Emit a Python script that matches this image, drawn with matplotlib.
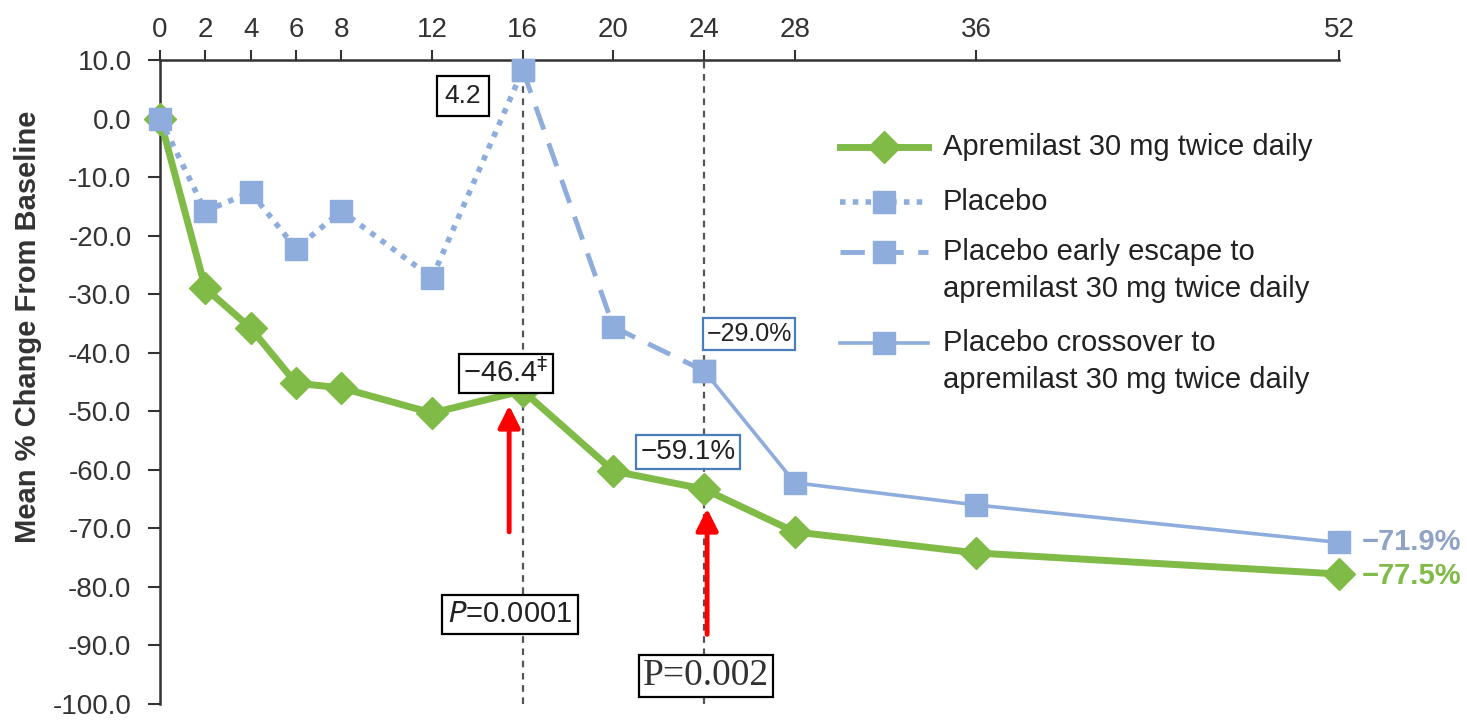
import numpy as np
import matplotlib
matplotlib.use('Agg')
import matplotlib.pyplot as plt

plt.rcParams['font.family'] = ['Liberation Sans', 'DejaVu Sans']

# weeks on the top axis
week_ticks = [0, 2, 4, 6, 8, 12, 16, 20, 24, 28, 36, 52]

# apremilast 30 mg BID
apr_weeks = [0, 2, 4, 6, 8, 12, 16, 20, 24, 28, 36, 52]
apr_vals = [0.0, -29.0, -35.8, -45.2, -46.0, -50.3, -46.5, -60.2, -63.3, -70.6, -74.2, -77.8]

# placebo, weeks 0-16
pbo_weeks = [0, 2, 4, 6, 8, 12, 16]
pbo_vals = [0.0, -15.8, -12.6, -22.2, -15.8, -27.2, 8.3]

# placebo early escape, weeks 16-24
esc_weeks = [16, 20, 24]
esc_vals = [8.3, -35.6, -43.1]

# placebo crossover, weeks 24-52
cro_weeks = [24, 28, 36, 52]
cro_vals = [-43.1, -62.2, -66.0, -72.4]

legend_labels = ['Apremilast 30 mg twice daily',
                 'Placebo',
                 'Placebo early escape to\napremilast 30 mg twice daily',
                 'Placebo crossover to\napremilast 30 mg twice daily']

green = '#80bb47'
blue = '#8eacdc'
dark = '#333333'

fig = plt.figure(figsize=(14.67, 7.2), dpi=100)
ax = fig.add_axes([160/1467, 16/720, 1179/1467, 644/720])
ax.set_xlim(0, 52)
ax.set_ylim(-100, 10)

# reference lines at week 16 and 24
for wk in [16, 24]:
    ax.axvline(wk, color='#555555', lw=1.6, ls=(0, (3, 2.5)), zorder=1)

styles = [
    dict(color=green, lw=5, ls='-', marker='D', ms=16),
    dict(color=blue, lw=4, ls=(0, (1, 1.3)), marker='s', ms=16),
    dict(color=blue, lw=3.5, ls=(0, (5, 3)), marker='s', ms=16),
    dict(color=blue, lw=2.6, ls='-', marker='s', ms=16),
]
series = [(apr_weeks, apr_vals), (pbo_weeks, pbo_vals), (esc_weeks, esc_vals), (cro_weeks, cro_vals)]
for (xs, ys), st in zip(series, styles):
    ax.plot(xs, ys, color=st['color'], lw=st['lw'], ls=st['ls'], marker=st['marker'],
            ms=st['ms'], mec=st['color'], clip_on=False, zorder=3)

# axes styling
for s in ['bottom', 'right']:
    ax.spines[s].set_visible(False)
for s in ['top', 'left']:
    ax.spines[s].set_linewidth(1.8)
    ax.spines[s].set_color(dark)
ax.xaxis.tick_top()
ax.set_xticks(week_ticks)
ax.set_xticklabels([str(w) for w in week_ticks])
yt = np.arange(-100, 11, 10)
ax.set_yticks(yt)
ax.set_yticklabels([f'{v:.1f}' for v in yt])
ax.tick_params(axis='x', direction='out', length=7, width=1.5, pad=5, labelsize=20,
               colors=dark)
ax.tick_params(axis='y', direction='out', length=8.5, width=1.5, pad=12, labelsize=20,
               colors=dark)
ax.set_ylabel('Mean % Change From Baseline', fontsize=21, fontweight='bold', color=dark)
ax.yaxis.set_label_coords(-0.1005, 0.585)

# boxed annotations
def box(x, y, txt, ec, size, pad=0.2):
    ax.text(x, y, txt, ha='center', va='center', fontsize=size,
            color='#222222', zorder=5,
            bbox=dict(boxstyle=f'square,pad={pad}', fc='white', ec=ec, lw=1.6))

box(13.37, 3.9, '4.2', 'black', 19, 0.3)
box(15.26, -43.5, '\u221246.4$^{\\ddagger}$', 'black', 21, 0.15)
box(23.29, -56.9, '\u221259.1%', '#4a7ebb', 20, 0.15)
box(25.98, -36.8, '\u221229.0%', '#4a7ebb', 18, 0.15)
ax.text(15.44, -84.7, '$\\it{P}$=0.0001', ha='center', va='center', fontsize=21,
        color='#222222', zorder=5,
        bbox=dict(boxstyle='square,pad=0.2', fc='white', ec='black', lw=1.6))
ax.text(24.08, -95.2, 'P=0.002', ha='center', va='center', fontsize=27,
        family=['Liberation Serif', 'DejaVu Serif'], color='#333333', zorder=5,
        bbox=dict(boxstyle='square,pad=0.1', fc='white', ec='black', lw=1.6))

# end-of-line labels
ax.text(53.0, cro_vals[-1], '\u221271.9%', ha='left', va='center', fontsize=21,
        fontweight='bold', color='#8ea3c6', clip_on=False)
ax.text(53.0, apr_vals[-1] - 0.3, '\u221277.5%', ha='left', va='center', fontsize=21,
        fontweight='bold', color=green, clip_on=False)

# red arrows
arrows = [(15.4, -70.6, -49.0), (24.13, -88.1, -66.6)]
for x, y0, y1 in arrows:
    ax.annotate('', xy=(x, y1), xytext=(x, y0), zorder=6,
                arrowprops=dict(arrowstyle='-|>,head_length=0.6,head_width=0.3',
                                color='#ff0000', lw=3.5, shrinkA=0, shrinkB=0,
                                mutation_scale=22))

# legend drawn by hand so the key sits on the first text line
leg_x0, leg_x1, leg_mx, leg_tx = 0.5768, 0.6514, 0.614, 0.6641
row_y = [0.8642, 0.7793, 0.7022, 0.5602]
line_gap = 37 / 644
for lab, st, yy in zip(legend_labels, styles, row_y):
    ax.plot([leg_x0, leg_mx, leg_x1], [yy, yy, yy], transform=ax.transAxes,
            color=st['color'], lw=st['lw'], ls=st['ls'], marker=st['marker'],
            ms=st['ms'], markevery=[1], clip_on=False)
    for i, part in enumerate(lab.split('\n')):
        ax.text(leg_tx, yy - i * line_gap, part, transform=ax.transAxes,
                ha='left', va='center', fontsize=21, color='#222222')

fig.savefig('out.png', dpi=100)
